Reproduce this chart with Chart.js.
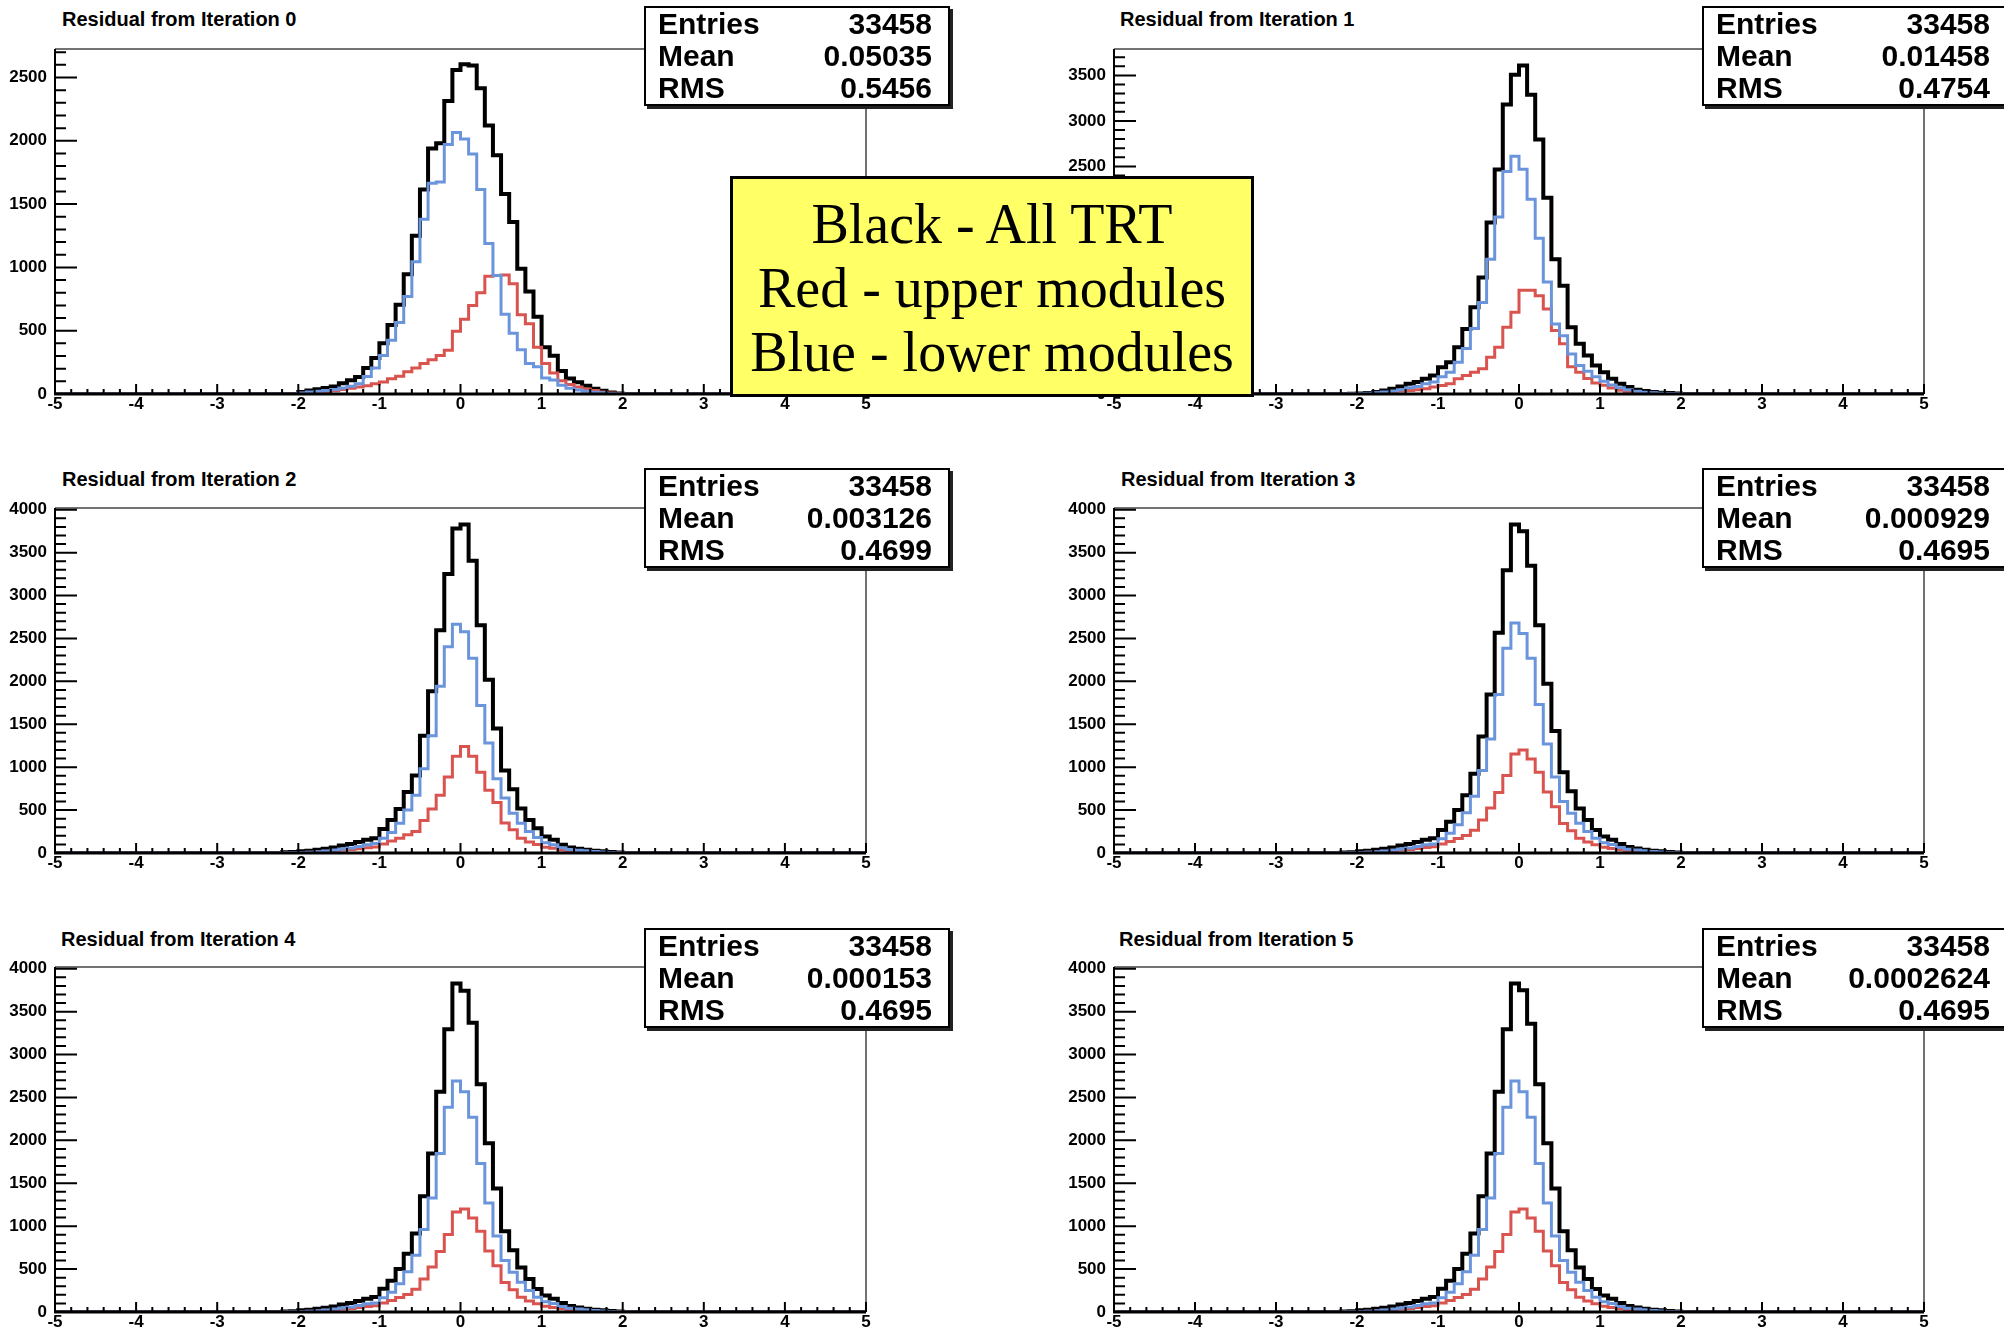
<!DOCTYPE html>
<html>
<head>
<meta charset="utf-8">
<script src="https://cdn.jsdelivr.net/npm/chart.js@4.4.1/dist/chart.umd.min.js"></script>
<style>
  body { margin: 0; width: 2004px; height: 1330px; background: #fff; position: relative; overflow: hidden; font-family: "Liberation Sans", Arial, sans-serif; }
  canvas { position: absolute; }
  .title { position: absolute; font-weight: bold; font-size: 20px; line-height: 22px; white-space: nowrap; color: #000; }
  .stats { position: absolute; width: 306px; height: 100px; box-sizing: border-box; background: #fff; border: 2px solid #000; box-shadow: 3px 3px 0 #222; }
  .stats .row { display: flex; justify-content: space-between; font-weight: bold; font-size: 30px; line-height: 32px; padding: 0 16px 0 12px; }
  .legend { position: absolute; left: 730px; top: 176px; width: 524px; height: 221px; box-sizing: border-box; background: #ffff66; border: 3px solid #000; font-family: "Liberation Serif", "DejaVu Serif", serif; font-size: 56px; line-height: 64px; text-align: center; padding-top: 13px; white-space: nowrap; }
</style>
</head>
<body>
<script>
// histogram binning: 100 bins from -5 to 5, values below start at bin -2.2
const nBins = 100;
const xLow = -5;
const xHigh = 5;
const binWidth = 0.1;
const firstBin = 28;
const binLowEdges = Array.from({ length: nBins + 1 }, (_, i) => xLow + i * binWidth);

const titles = [
  "Residual from Iteration 0", "Residual from Iteration 1", "Residual from Iteration 2",
  "Residual from Iteration 3", "Residual from Iteration 4", "Residual from Iteration 5"
];
const entries = ["33458", "33458", "33458", "33458", "33458", "33458"];
const means = ["0.05035", "0.01458", "0.003126", "0.000929", "0.000153", "0.0002624"];
const rmsValues = ["0.5456", "0.4754", "0.4699", "0.4695", "0.4695", "0.4695"];
const yMaxes = [2725, 3790, 4020, 4020, 4020, 4020];
const yTickStep = 500;
const legendLines = ["Black - All TRT", "Red - upper modules", "Blue - lower modules"];

// bins -2.2 .. 1.9
const allTRT0 = [0, 0, 15, 28, 38, 48, 60, 85, 108, 135, 205, 285, 400, 545, 705, 945, 1250, 1615, 1940, 1980, 2315, 2560,
  2605, 2595, 2415, 2120, 1885, 1580, 1358, 990, 810, 610, 370, 302, 181, 122, 92, 65, 42, 25, 12, 4];
const lower0 = [0, 0, 8, 15, 22, 28, 35, 48, 62, 80, 138, 205, 305, 425, 565, 770, 1045, 1380, 1665, 1675, 1970, 2065,
  2015, 1895, 1615, 1188, 935, 630, 480, 350, 240, 215, 126, 110, 70, 45, 32, 22, 14, 9, 4, 0];
const upper0 = [0, 0, 5, 10, 15, 20, 25, 35, 45, 55, 65, 80, 95, 120, 140, 175, 205, 240, 270, 305, 345, 495,
  590, 700, 800, 930, 935, 940, 870, 625, 555, 370, 240, 165, 105, 75, 55, 40, 28, 15, 8, 3];

const allTRT1 = [0, 3, 6, 10, 21, 39, 58, 83, 113, 131, 167, 204, 295, 350, 514, 715, 952, 1281, 1883, 2467, 3179, 3508,
  3610, 3288, 2796, 2157, 1481, 1189, 733, 551, 423, 313, 240, 167, 112, 76, 47, 32, 21, 14, 10, 5];
const lower1 = [0, 2, 4, 7, 14, 21, 32, 47, 69, 83, 112, 131, 190, 240, 350, 500, 720, 1005, 1480, 1945, 2445, 2612,
  2468, 2140, 1710, 1230, 770, 640, 440, 314, 250, 190, 140, 100, 70, 48, 30, 20, 14, 9, 6, 3];
const upper1 = [0, 1, 2, 3, 7, 14, 21, 32, 39, 47, 58, 76, 94, 112, 167, 204, 240, 277, 405, 514, 733, 897,
  1141, 1141, 1079, 934, 697, 551, 300, 240, 170, 120, 95, 65, 42, 28, 17, 12, 7, 5, 4, 2];

const allTRT2 = [8, 12, 19, 27, 38, 50, 65, 88, 104, 127, 154, 173, 281, 385, 512, 711, 904, 1365, 1885, 2596, 3250, 3780,
  3827, 3404, 2654, 2019, 1450, 962, 742, 519, 385, 288, 192, 154, 96, 65, 50, 38, 27, 19, 12, 5];
const lower2 = [3, 4, 6, 10, 15, 23, 35, 46, 58, 77, 96, 110, 173, 240, 346, 500, 673, 981, 1365, 1942, 2404, 2665,
  2577, 2269, 1719, 1281, 865, 642, 462, 346, 250, 180, 120, 95, 60, 40, 32, 25, 18, 12, 7, 3];
const upper2 = [2, 3, 5, 8, 12, 19, 27, 35, 42, 50, 62, 70, 104, 140, 173, 212, 250, 380, 512, 673, 885, 1127,
  1242, 1127, 942, 731, 588, 350, 270, 173, 127, 100, 68, 55, 35, 25, 17, 12, 8, 5, 4, 2];

const allTRT3 = [6, 10, 19, 27, 38, 50, 65, 88, 104, 127, 154, 173, 269, 365, 500, 673, 923, 1358, 1846, 2565, 3296, 3827,
  3750, 3346, 2654, 1973, 1423, 942, 719, 519, 385, 269, 192, 154, 104, 70, 52, 38, 27, 19, 12, 5];
const lower3 = [2, 4, 6, 10, 15, 23, 35, 46, 58, 77, 96, 105, 165, 231, 330, 470, 660, 962, 1327, 1846, 2385, 2681,
  2558, 2269, 1731, 1269, 885, 600, 462, 346, 250, 173, 120, 100, 65, 44, 34, 25, 18, 12, 7, 3];
const upper3 = [2, 3, 5, 8, 12, 19, 27, 35, 42, 52, 65, 72, 105, 135, 170, 205, 265, 385, 525, 705, 904, 1154,
  1200, 1096, 942, 712, 538, 345, 258, 173, 127, 96, 68, 52, 38, 26, 18, 13, 9, 6, 4, 2];

const allTRT4 = [6, 10, 19, 27, 38, 50, 65, 88, 104, 127, 154, 175, 270, 365, 500, 680, 915, 1350, 1846, 2565, 3296, 3827,
  3742, 3370, 2654, 1965, 1440, 942, 719, 519, 385, 269, 192, 154, 104, 70, 52, 38, 27, 19, 12, 5];
const lower4 = [2, 4, 6, 10, 15, 23, 35, 46, 58, 77, 96, 105, 165, 231, 330, 470, 660, 962, 1327, 1846, 2385, 2692,
  2565, 2269, 1731, 1269, 885, 600, 462, 346, 250, 173, 120, 100, 65, 44, 34, 25, 18, 12, 7, 3];
const upper4 = [2, 3, 5, 8, 12, 19, 27, 35, 42, 52, 65, 72, 105, 135, 170, 205, 265, 385, 525, 705, 904, 1165,
  1200, 1096, 942, 712, 538, 345, 258, 173, 127, 96, 68, 52, 38, 26, 18, 13, 9, 6, 4, 2];

const allTRT5 = [6, 10, 19, 27, 38, 50, 65, 88, 104, 127, 154, 175, 270, 365, 500, 680, 915, 1350, 1846, 2565, 3296, 3827,
  3750, 3360, 2654, 1965, 1440, 942, 719, 519, 385, 269, 192, 154, 104, 70, 52, 38, 27, 19, 12, 5];
const lower5 = [2, 4, 6, 10, 15, 23, 35, 46, 58, 77, 96, 105, 165, 231, 330, 470, 660, 962, 1327, 1846, 2385, 2692,
  2565, 2269, 1731, 1269, 885, 600, 462, 346, 250, 173, 120, 100, 65, 44, 34, 25, 18, 12, 7, 3];
const upper5 = [2, 3, 5, 8, 12, 19, 27, 35, 42, 52, 65, 72, 105, 135, 170, 205, 265, 385, 525, 705, 904, 1165,
  1200, 1096, 942, 712, 538, 345, 258, 173, 127, 96, 68, 52, 38, 26, 18, 13, 9, 6, 4, 2];

const panels = [
  { all: allTRT0, lower: lower0, upper: upper0, frame: { l: 55, t: 49, r: 866, b: 394 } },
  { all: allTRT1, lower: lower1, upper: upper1, frame: { l: 1114, t: 49, r: 1924, b: 394 } },
  { all: allTRT2, lower: lower2, upper: upper2, frame: { l: 55, t: 508, r: 866, b: 853 } },
  { all: allTRT3, lower: lower3, upper: upper3, frame: { l: 1114, t: 508, r: 1924, b: 853 } },
  { all: allTRT4, lower: lower4, upper: upper4, frame: { l: 55, t: 967, r: 866, b: 1312 } },
  { all: allTRT5, lower: lower5, upper: upper5, frame: { l: 1114, t: 967, r: 1924, b: 1312 } }
];
const titlePos = [[62, 19], [1120, 19], [62, 479], [1121, 479], [61, 939], [1119, 939]];
const statsPos = [[644, 6], [1702, 6], [644, 468], [1702, 468], [644, 928], [1702, 928]];

function histPoints(vals) {
  const counts = new Array(nBins).fill(0);
  vals.forEach((v, i) => { counts[firstBin + i] = v; });
  const pts = counts.map((c, i) => ({ x: binLowEdges[i], y: c }));
  pts.push({ x: binLowEdges[nBins], y: counts[nBins - 1] });
  return pts;
}

// ROOT-like frame with inward ticks
const rootFrame = {
  id: "rootFrame",
  afterDatasetsDraw(chart) {
    const { ctx, chartArea: a, scales } = chart;
    const x = scales.x, y = scales.y;
    ctx.save();
    ctx.strokeStyle = "#444";
    ctx.lineWidth = 1.5;
    ctx.beginPath();
    ctx.moveTo(a.left, a.top);
    ctx.lineTo(a.right, a.top);
    ctx.lineTo(a.right, a.bottom);
    ctx.stroke();

    ctx.strokeStyle = "#000";
    ctx.lineWidth = 2;
    ctx.beginPath();
    for (let k = 0; k <= 50; k++) {
      const px = x.getPixelForValue(xLow + k * 0.2);
      const len = k % 5 === 0 ? 10 : 5;
      ctx.moveTo(px, a.bottom);
      ctx.lineTo(px, a.bottom - len);
    }
    for (let v = 0; v <= y.max; v += 100) {
      const py = y.getPixelForValue(v);
      const len = v % 500 === 0 ? 22 : 11;
      ctx.moveTo(a.left, py);
      ctx.lineTo(a.left + len, py);
    }
    ctx.stroke();

    ctx.lineWidth = 2;
    ctx.beginPath();
    ctx.moveTo(a.left, a.top);
    ctx.lineTo(a.left, a.bottom);
    ctx.stroke();
    ctx.lineWidth = 3;
    ctx.beginPath();
    ctx.moveTo(a.left - 1, a.bottom);
    ctx.lineTo(a.right, a.bottom);
    ctx.stroke();
    ctx.restore();
  }
};

const tickFont = { family: "Liberation Sans", weight: "bold", size: 17 };

function makePanel(p, idx) {
  const f = p.frame;
  const padTop = 12, padRight = 12, yWidth = 55, xHeight = 30;
  const canvas = document.createElement("canvas");
  canvas.width = f.r - f.l + yWidth + padRight;
  canvas.height = f.b - f.t + padTop + xHeight;
  canvas.style.left = (f.l - yWidth) + "px";
  canvas.style.top = (f.t - padTop) + "px";
  document.body.appendChild(canvas);

  new Chart(canvas, {
    type: "line",
    data: {
      datasets: [
        { label: "lower", data: histPoints(p.lower), borderColor: "#6a95dc", borderWidth: 3 },
        { label: "upper", data: histPoints(p.upper), borderColor: "#d9534f", borderWidth: 3 },
        { label: "all", data: histPoints(p.all), borderColor: "#000", borderWidth: 4 }
      ]
    },
    options: {
      responsive: false,
      animation: false,
      devicePixelRatio: 1,
      layout: { padding: { top: padTop, right: padRight, left: 0, bottom: 0 } },
      elements: { point: { radius: 0 }, line: { stepped: true, fill: false, tension: 0 } },
      plugins: { legend: { display: false }, tooltip: { enabled: false } },
      scales: {
        x: {
          type: "linear", min: xLow, max: xHigh,
          grid: { display: false, drawTicks: false }, border: { display: false },
          ticks: { stepSize: 1, padding: 0, color: "#000", font: tickFont, maxRotation: 0, autoSkip: false, includeBounds: false,
                   callback: v => String(v) },
          afterFit: s => { s.height = xHeight; s.paddingLeft = 0; s.paddingRight = 0; }
        },
        y: {
          min: 0, max: yMaxes[idx],
          grid: { display: false, drawTicks: false }, border: { display: false },
          ticks: { padding: 8, color: "#000", font: tickFont, autoSkip: false, callback: v => String(v) },
          afterBuildTicks: s => {
            const t = [];
            for (let v = 0; v <= yMaxes[idx]; v += yTickStep) t.push({ value: v });
            s.ticks = t;
          },
          afterFit: s => { s.width = yWidth; s.paddingTop = 0; s.paddingBottom = 0; }
        }
      }
    },
    plugins: [rootFrame]
  });
}

panels.forEach(makePanel);

titles.forEach((t, i) => {
  const d = document.createElement("div");
  d.className = "title";
  d.textContent = t;
  d.style.left = titlePos[i][0] + "px";
  d.style.top = (titlePos[i][1] - 11) + "px";
  document.body.appendChild(d);
});

statsPos.forEach((pos, i) => {
  const box = document.createElement("div");
  box.className = "stats";
  box.style.left = pos[0] + "px";
  box.style.top = pos[1] + "px";
  [["Entries", entries[i]], ["Mean", means[i]], ["RMS", rmsValues[i]]].forEach(([k, v]) => {
    const row = document.createElement("div");
    row.className = "row";
    const a = document.createElement("span");
    a.textContent = k;
    const b = document.createElement("span");
    b.textContent = v;
    row.appendChild(a);
    row.appendChild(b);
    box.appendChild(row);
  });
  document.body.appendChild(box);
});

const legend = document.createElement("div");
legend.className = "legend";
legendLines.forEach(line => {
  const d = document.createElement("div");
  d.textContent = line;
  legend.appendChild(d);
});
document.body.appendChild(legend);
</script>
</body>
</html>
